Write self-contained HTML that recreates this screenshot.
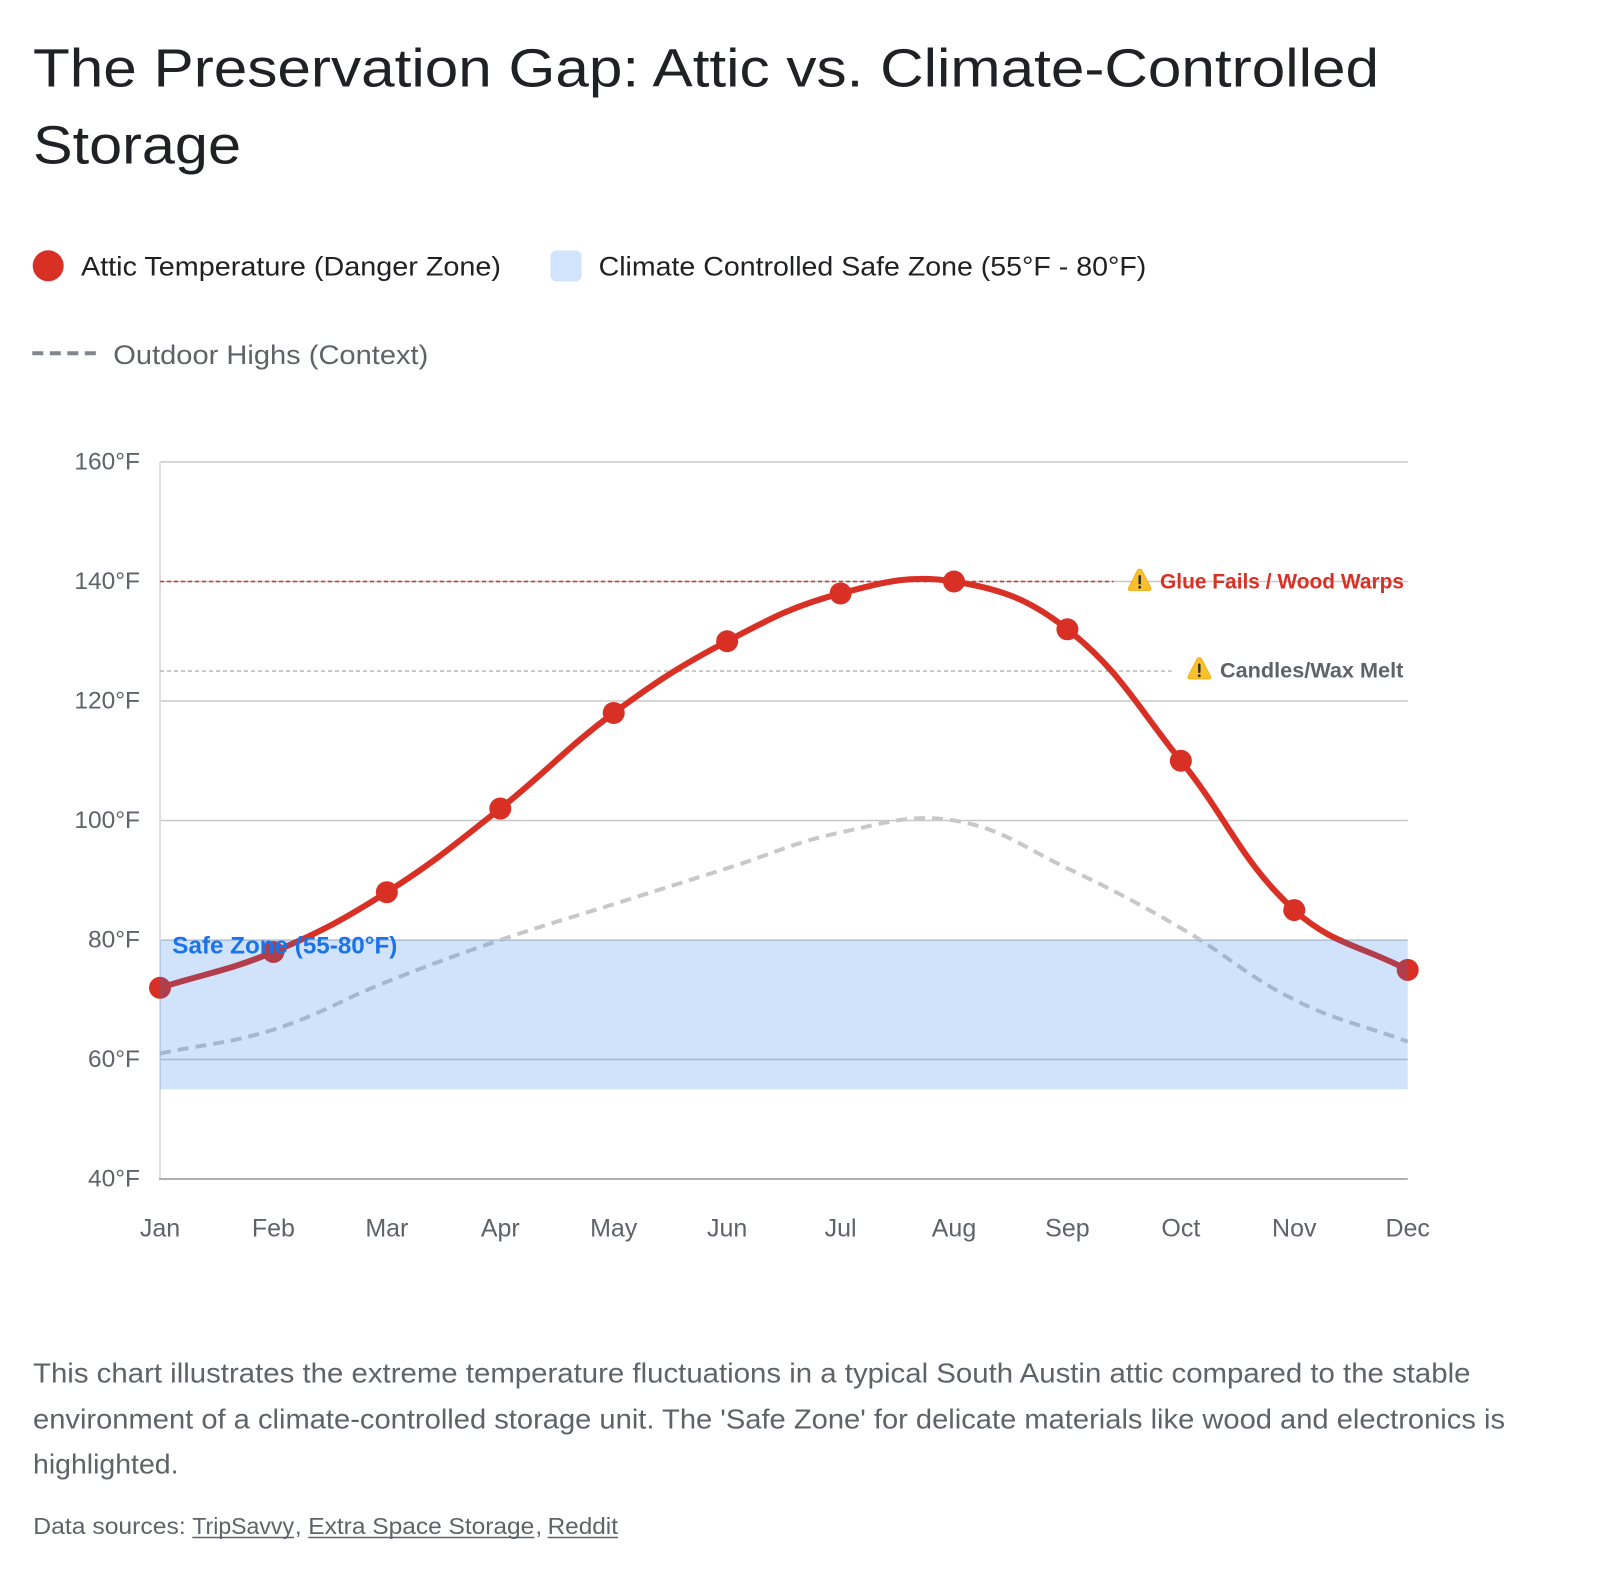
<!DOCTYPE html>
<html>
<head>
<meta charset="utf-8">
<style>
  html, body { margin: 0; padding: 0; background: #ffffff; }
  svg { display: block; }
  text { font-family: "Liberation Sans", "DejaVu Sans", sans-serif; }
</style>
</head>
<body>
<svg width="1600" height="1574" viewBox="0 0 1600 1574" xmlns="http://www.w3.org/2000/svg">
  <rect x="0" y="0" width="1600" height="1574" fill="#ffffff"/>

  <!-- Title -->
  <text x="33" y="86.7" font-size="54" fill="#202124" textLength="1346" lengthAdjust="spacingAndGlyphs">The Preservation Gap: Attic vs. Climate-Controlled</text>
  <text x="33" y="163.3" font-size="54" fill="#202124" textLength="208" lengthAdjust="spacingAndGlyphs">Storage</text>

  <!-- Legend row 1 -->
  <circle cx="48.2" cy="265.8" r="15.5" fill="#d93025"/>
  <text x="81" y="275.7" font-size="26.5" fill="#202124" textLength="420" lengthAdjust="spacingAndGlyphs">Attic Temperature (Danger Zone)</text>
  <rect x="550.5" y="250.5" width="31" height="31" rx="6" ry="6" fill="#d2e3fc"/>
  <text x="598.6" y="275.7" font-size="26.5" fill="#202124" textLength="547.7" lengthAdjust="spacingAndGlyphs">Climate Controlled Safe Zone (55°F - 80°F)</text>

  <!-- Legend row 2 -->
  <line x1="32.3" y1="353.3" x2="96" y2="353.3" stroke="#80868b" stroke-width="4" stroke-dasharray="11 6.5"/>
  <text x="113.3" y="364" font-size="26.5" fill="#5f6368" textLength="315" lengthAdjust="spacingAndGlyphs">Outdoor Highs (Context)</text>

  <!-- Gridlines -->
  <g stroke="#c8c8c8" stroke-width="1.5">
    <line x1="160" y1="462" x2="1407.7" y2="462"/>
    <line x1="160" y1="581.5" x2="1407.7" y2="581.5"/>
    <line x1="160" y1="701" x2="1407.7" y2="701"/>
    <line x1="160" y1="820.5" x2="1407.7" y2="820.5"/>
    <line x1="160" y1="940" x2="1407.7" y2="940"/>
    <line x1="160" y1="1059.5" x2="1407.7" y2="1059.5"/>
  </g>
  <line x1="160" y1="462" x2="160" y2="1179" stroke="#dedede" stroke-width="2"/>
  <line x1="159" y1="1179" x2="1407.7" y2="1179" stroke="#b0b0b0" stroke-width="2"/>

  <!-- Y tick labels -->
  <g font-size="24.5" fill="#5f6368" text-anchor="end">
    <text x="140" y="469.5">160°F</text>
    <text x="140" y="589">140°F</text>
    <text x="140" y="708.5">120°F</text>
    <text x="140" y="828">100°F</text>
    <text x="140" y="947.5">80°F</text>
    <text x="140" y="1067">60°F</text>
    <text x="140" y="1186.5">40°F</text>
  </g>

  <!-- X tick labels -->
  <g font-size="25" fill="#5f6368" text-anchor="middle">
    <text x="160" y="1236.5">Jan</text>
    <text x="273.43" y="1236.5">Feb</text>
    <text x="386.85" y="1236.5">Mar</text>
    <text x="500.28" y="1236.5">Apr</text>
    <text x="613.71" y="1236.5">May</text>
    <text x="727.14" y="1236.5">Jun</text>
    <text x="840.56" y="1236.5">Jul</text>
    <text x="953.99" y="1236.5">Aug</text>
    <text x="1067.42" y="1236.5">Sep</text>
    <text x="1180.85" y="1236.5">Oct</text>
    <text x="1294.27" y="1236.5">Nov</text>
    <text x="1407.7" y="1236.5">Dec</text>
  </g>

  <!-- Outdoor highs dashed -->
  <path d="M160,1053.5 C205.37,1043.94 229.42,1043.51 273.43,1029.6 C320.16,1014.83 341.07,999.88 386.85,981.8 C431.81,964.04 454.55,955.65 500.28,940 C545.29,924.59 568.34,918.49 613.71,904.15 C659.08,889.81 681.77,882.64 727.14,868.3 C772.51,853.96 794.23,842.21 840.56,832.45 C884.98,823.09 910.35,813.60 953.99,820.5 C1001.09,827.94 1022.97,847.23 1067.42,868.3 C1113.71,890.25 1136.51,902.36 1180.85,928.05 C1227.26,954.94 1246.54,975.86 1294.27,999.75 C1337.28,1021.28 1362.33,1024.86 1407.7,1041.6" fill="none" stroke="#c8c8c8" stroke-width="4" stroke-dasharray="11 7"/>

  <!-- Threshold lines -->
  <line x1="160" y1="581.5" x2="1113.5" y2="581.5" stroke="#d93025" stroke-width="1.6" stroke-dasharray="4 3"/>
  <line x1="160" y1="671.1" x2="1171.7" y2="671.1" stroke="#bdbdbd" stroke-width="1.6" stroke-dasharray="4 3"/>

  <!-- Attic line -->
  <path d="M160,987.8 C205.37,973.46 229.75,970.36 273.43,951.95 C320.50,932.12 343.63,919.52 386.85,892.2 C434.37,862.16 456.07,843.48 500.28,808.55 C546.81,771.78 566.07,748.09 613.71,712.95 C656.81,681.17 679.81,666.18 727.14,641.25 C770.55,618.38 793.46,605.86 840.56,593.45 C884.20,581.96 910.35,574.60 953.99,581.5 C1001.09,588.94 1029.78,599.56 1067.42,629.3 C1120.52,671.26 1137.23,706.75 1180.85,760.75 C1227.97,819.07 1240.38,860.41 1294.27,910.1 C1331.12,944.07 1362.33,945.98 1407.7,969.9" fill="none" stroke="#d93025" stroke-width="6" stroke-linejoin="round" stroke-linecap="round"/>
  <g fill="#d93025">
    <circle cx="160" cy="987.8" r="11"/>
    <circle cx="273.43" cy="951.95" r="11"/>
    <circle cx="386.85" cy="892.2" r="11"/>
    <circle cx="500.28" cy="808.55" r="11"/>
    <circle cx="613.71" cy="712.95" r="11"/>
    <circle cx="727.14" cy="641.25" r="11"/>
    <circle cx="840.56" cy="593.45" r="11"/>
    <circle cx="953.99" cy="581.5" r="11"/>
    <circle cx="1067.42" cy="629.3" r="11"/>
    <circle cx="1180.85" cy="760.75" r="11"/>
    <circle cx="1294.27" cy="910.1" r="11"/>
    <circle cx="1407.7" cy="969.9" r="11"/>
  </g>

  <!-- Safe zone band -->
  <rect x="160" y="940" width="1247.7" height="149.4" fill="rgba(26,115,232,0.2)"/>
  <text x="172.3" y="953.3" font-size="24" font-weight="bold" fill="#1a73e8" textLength="225" lengthAdjust="spacingAndGlyphs">Safe Zone (55-80°F)</text>

  <!-- Annotation: Glue Fails -->
  <g transform="translate(1127.7,568)">
    <path d="M12,1.5 Q13,0.5 14,2 L23.2,19.8 Q24,22.5 21.5,22.5 L2.5,22.5 Q0,22.5 0.8,19.8 L10,2 Q11,0.5 12,1.5 Z" fill="#fbc02d" stroke="#f2a600" stroke-width="0.8"/>
    <rect x="10.8" y="7" width="2.4" height="9.5" rx="1.1" fill="#2b2b2b"/>
    <circle cx="12" cy="19.2" r="1.4" fill="#2b2b2b"/>
  </g>
  <text x="1160" y="588.5" font-size="21.5" font-weight="bold" fill="#d93025" textLength="244" lengthAdjust="spacingAndGlyphs">Glue Fails / Wood Warps</text>

  <!-- Annotation: Candles -->
  <g transform="translate(1187.3,656.5)">
    <path d="M12,1.5 Q13,0.5 14,2 L23.2,19.8 Q24,22.5 21.5,22.5 L2.5,22.5 Q0,22.5 0.8,19.8 L10,2 Q11,0.5 12,1.5 Z" fill="#fbc02d" stroke="#f2a600" stroke-width="0.8"/>
    <rect x="10.8" y="7" width="2.4" height="9.5" rx="1.1" fill="#2b2b2b"/>
    <circle cx="12" cy="19.2" r="1.4" fill="#2b2b2b"/>
  </g>
  <text x="1220" y="677.3" font-size="21.5" font-weight="bold" fill="#5f6368" textLength="183.3" lengthAdjust="spacingAndGlyphs">Candles/Wax Melt</text>

  <!-- Description -->
  <g font-size="28" fill="#5f6368">
    <text x="33" y="1382.7" textLength="1437.5" lengthAdjust="spacingAndGlyphs">This chart illustrates the extreme temperature fluctuations in a typical South Austin attic compared to the stable</text>
    <text x="33" y="1428.3" textLength="1472" lengthAdjust="spacingAndGlyphs">environment of a climate-controlled storage unit. The 'Safe Zone' for delicate materials like wood and electronics is</text>
    <text x="33" y="1473.3" textLength="145.5" lengthAdjust="spacingAndGlyphs">highlighted.</text>
  </g>

  <!-- Data sources -->
  <g font-size="23.5" fill="#5f6368">
    <text x="33.3" y="1534" textLength="152.4" lengthAdjust="spacingAndGlyphs">Data sources:</text>
    <text x="192.3" y="1534" textLength="101.7" lengthAdjust="spacingAndGlyphs">TripSavvy</text>
    <text x="295" y="1534">,</text>
    <text x="308.3" y="1534" textLength="226" lengthAdjust="spacingAndGlyphs">Extra Space Storage</text>
    <text x="535.5" y="1534">,</text>
    <text x="547.6" y="1534" textLength="70.4" lengthAdjust="spacingAndGlyphs">Reddit</text>
  </g>
  <g stroke="#5f6368" stroke-width="1.5">
    <line x1="192.3" y1="1537.5" x2="294" y2="1537.5"/>
    <line x1="308.3" y1="1537.5" x2="534.4" y2="1537.5"/>
    <line x1="547.6" y1="1537.5" x2="618" y2="1537.5"/>
  </g>
</svg>
</body>
</html>
